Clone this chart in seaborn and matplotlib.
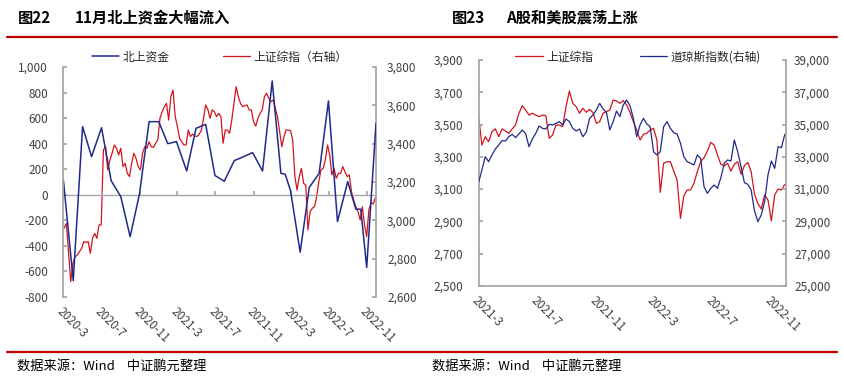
import pandas as pd
import numpy as np
import matplotlib.pyplot as plt
import matplotlib.dates as mdates
from matplotlib.lines import Line2D
from matplotlib.ticker import FuncFormatter, MultipleLocator
import seaborn as sns

# Left chart: northbound flows (monthly, 亿元) and SSE composite (weekly)

north_dates = [
    "2020-02-28", "2020-03-31", "2020-04-30", "2020-05-29", "2020-06-30", "2020-07-31",
    "2020-08-31", "2020-09-30", "2020-10-30", "2020-11-30", "2020-12-31", "2021-01-29",
    "2021-02-26", "2021-03-31", "2021-04-30", "2021-05-31", "2021-06-30", "2021-07-30",
    "2021-08-31", "2021-09-30", "2021-10-29", "2021-11-30", "2021-12-31", "2022-01-28",
    "2022-02-11", "2022-02-28", "2022-03-31", "2022-04-29", "2022-05-31", "2022-06-30",
    "2022-07-29", "2022-08-31", "2022-09-26", "2022-10-12", "2022-10-31", "2022-11-30",
]
north_flow = [
    121, -672, 533, 298, 525, 110, -15, -328, 5, 572, 572, 400,
    416, 186, 520, 551, 150, 106, 267, 298, 330, 186, 890, 168,
    160, 32, -450, 56, 168, 734, -210, 103, -113, -113, -570, 560,
]

sse_weeks_start = "2020-03-02"
sse_2020_2022 = [
    2960, 2984, 2828, 2680, 2776, 2810, 2819, 2836, 2854, 2889, 2884, 2889,
    2828, 2906, 2932, 2906, 2976, 2976, 3367, 3384, 3263, 3315, 3350, 3393,
    3376, 3341, 3376, 3280, 3298, 3245, 3228, 3298, 3350, 3323, 3280, 3263,
    3350, 3384, 3376, 3410, 3384, 3381, 3402, 3419, 3532, 3567, 3593, 3610,
    3523, 3645, 3680, 3541, 3489, 3428, 3410, 3393, 3393, 3471, 3437, 3450,
    3440, 3437, 3450, 3468, 3532, 3602, 3579, 3532, 3576, 3567, 3541, 3558,
    3541, 3402, 3471, 3471, 3454, 3523, 3610, 3697, 3645, 3610, 3593, 3597,
    3602, 3576, 3576, 3515, 3492, 3532, 3558, 3576, 3645, 3663, 3636, 3619,
    3628, 3584, 3541, 3463, 3384, 3437, 3471, 3471, 3468, 3419, 3228, 3158,
    3228, 3271, 3193, 3184, 2950, 3045, 3063, 3071, 3123, 3202, 3263, 3271,
    3315, 3393, 3341, 3237, 3271, 3219, 3245, 3245, 3280, 3254, 3228, 3237,
    3150, 3106, 3071, 3045, 3002, 3071, 2976, 2915, 3054, 3092, 3085, 3120,
]

# Right chart: SSE composite vs Dow Jones (weekly)

weeks_start = "2021-03-01"
sse_2021_2022 = [
    3559, 3373, 3425, 3394, 3456, 3473, 3425, 3473, 3460, 3446, 3473, 3497,
    3570, 3617, 3590, 3559, 3570, 3559, 3549, 3559, 3555, 3415, 3435, 3497,
    3497, 3487, 3611, 3708, 3632, 3611, 3570, 3601, 3576, 3594, 3574, 3508,
    3518, 3570, 3580, 3590, 3652, 3646, 3632, 3648, 3621, 3576, 3518, 3466,
    3404, 3440, 3446, 3466, 3477, 3404, 3080, 3260, 3270, 3270, 3212, 3157,
    2919, 3058, 3095, 3095, 3136, 3208, 3270, 3295, 3336, 3390, 3373, 3311,
    3254, 3245, 3260, 3212, 3254, 3270, 3192, 3245, 3266, 3208, 3068, 3012,
    2977, 3064, 3033, 2903, 3064, 3101, 3095, 3130,
]
dow_jones = [
    31400, 32186, 33012, 32702, 33115, 33487, 33735, 34003, 33983, 34250, 34395, 34189,
    34416, 34664, 34437, 33631, 34106, 34457, 34912, 34767, 34726, 35015, 34974, 35077,
    35180, 34974, 35345, 35180, 34767, 34602, 34726, 34251, 34519, 35387, 35593, 35903,
    36316, 35965, 35758, 34664, 35180, 35841, 35490, 36213, 36522, 36171, 35387, 34251,
    34974, 35387, 35036, 34870, 33321, 33115, 33321, 34870, 35180, 34767, 34499, 34416,
    33838, 33012, 32702, 32599, 32496, 33115, 32909, 31153, 30740, 31050, 31257, 31050,
    31711, 32599, 32806, 32743, 34044, 33321, 32392, 31401, 31298, 30947, 29646, 28985,
    29398, 30224, 31876, 32743, 32289, 33631, 33569, 34400,
]

sse_ticks_right_chart = [2500, 2700, 2900, 3100, 3300, 3500, 3700, 3900]
dj_ticks = [25000, 27000, 29000, 31000, 33000, 35000, 37000, 39000]

df_north = pd.DataFrame({"date": pd.to_datetime(north_dates), "value": north_flow})
df_sse1 = pd.DataFrame({
    "date": pd.date_range(sse_weeks_start, periods=len(sse_2020_2022), freq="7D"),
    "value": sse_2020_2022,
})
df_sse2 = pd.DataFrame({
    "date": pd.date_range(weeks_start, periods=len(sse_2021_2022), freq="7D"),
    "value": sse_2021_2022,
})
df_dj = pd.DataFrame({
    "date": pd.date_range(weeks_start, periods=len(dow_jones), freq="7D"),
    "value": dow_jones,
})

sns.set_theme(style="white")
plt.rcParams["font.family"] = ["Noto Sans CJK SC", "DejaVu Sans"]
plt.rcParams["axes.unicode_minus"] = False

BLUE = "#1f2a8a"
RED = "#d2141e"
GRAY = "#a6a6a6"
TXT = "#404040"
DARKRED = "#c00000"

fig = plt.figure(figsize=(8.45, 3.79), dpi=100)

ax1 = fig.add_axes([0.0749, 0.2164, 0.3701, 0.6069])
ax1r = ax1.twinx()
ax2 = fig.add_axes([0.5663, 0.2454, 0.3636, 0.5963])
ax2r = ax2.twinx()

# Left chart

sns.lineplot(data=df_sse1, x="date", y="value", ax=ax1r, color=RED,
             linewidth=0.9, label="上证综指（右轴）", legend=False)
sns.lineplot(data=df_north, x="date", y="value", ax=ax1, color=BLUE,
             linewidth=1.1, label="北上资金", legend=False)
ax1.set_zorder(ax1r.get_zorder() + 1)
ax1.patch.set_visible(False)

ax1.set_ylim(-800, 1000)
ax1.yaxis.set_major_locator(MultipleLocator(200))
ax1r.set_ylim(2600, 3800)
ax1r.yaxis.set_major_locator(MultipleLocator(200))
ax1.set_xlim(pd.Timestamp("2020-02-28"), pd.Timestamp("2022-11-30"))
ax1.axhline(0, color=GRAY, linewidth=1.0, zorder=0)

# Right chart

sns.lineplot(data=df_sse2, x="date", y="value", ax=ax2, color=RED,
             linewidth=0.9, label="上证综指", legend=False)
sns.lineplot(data=df_dj, x="date", y="value", ax=ax2r, color=BLUE,
             linewidth=0.9, label="道琼斯指数(右轴)", legend=False)
ax2.set_ylim(2500, 3900)
ax2.set_yticks(sse_ticks_right_chart)
ax2r.set_ylim(25000, 39000)
ax2r.set_yticks(dj_ticks)
ax2.set_xlim(pd.Timestamp("2021-03-01"), pd.Timestamp("2022-11-30"))

# Axis styling

fmt_num = FuncFormatter(lambda v, p: f"{v:,.0f}")
fmt_date = FuncFormatter(lambda v, p: f"{mdates.num2date(v).year}-{mdates.num2date(v).month}")

for ax in [ax1, ax1r, ax2, ax2r]:
    ax.set_xlabel("")
    ax.set_ylabel("")
    for s in ax.spines.values():
        s.set_visible(False)
        s.set_color(GRAY)
    ax.yaxis.set_major_formatter(fmt_num)
    ax.tick_params(axis="y", direction="in", length=3, color=GRAY,
                   labelsize=8.5, labelcolor=TXT)

ax1.spines["left"].set_visible(True)
ax1r.spines["right"].set_visible(True)
ax2.spines["left"].set_visible(True)
ax2.spines["bottom"].set_visible(True)
ax2r.spines["right"].set_visible(True)

ax1.tick_params(axis="y", pad=11)
ax1r.tick_params(axis="y", pad=8)
ax2.tick_params(axis="y", pad=11)
ax2r.tick_params(axis="y", pad=6)

for ax in [ax1, ax2]:
    ax.xaxis.set_major_locator(mdates.MonthLocator(bymonth=[3, 7, 11]))
    ax.xaxis.set_major_formatter(fmt_date)
    for lbl in ax.get_xticklabels():
        lbl.set_rotation(-45)
        lbl.set_ha("left")
        lbl.set_va("top")
        lbl.set_rotation_mode("anchor")

ax1.tick_params(axis="x", length=0, pad=6, labelsize=8.5, labelcolor=TXT)
ax2.tick_params(axis="x", direction="in", length=3, color=GRAY, pad=6,
                labelsize=8.5, labelcolor=TXT)

# tick marks on the zero line of the left chart
zero_axis = ax1.secondary_xaxis(800 / 1800)
zero_axis.set_xticks(ax1.get_xticks())
zero_axis.set_xticklabels([])
zero_axis.tick_params(axis="x", direction="in", length=3, color=GRAY)
for s in zero_axis.spines.values():
    s.set_visible(False)

# Legends

h1, l1 = ax1.get_legend_handles_labels()
h2, l2 = ax1r.get_legend_handles_labels()
ax1.legend(h1 + h2, l1 + l2, loc="center", bbox_to_anchor=(0.5, 1.043),
           ncol=2, frameon=False, fontsize=8.5, handlelength=2.3,
           handletextpad=0.3, columnspacing=4.5, borderaxespad=0)

h1, l1 = ax2.get_legend_handles_labels()
h2, l2 = ax2r.get_legend_handles_labels()
ax2r.legend(h1 + h2, l1 + l2, loc="center", bbox_to_anchor=(0.52, 1.013),
            ncol=2, frameon=False, fontsize=8.5, handlelength=2.3,
            handletextpad=0.3, columnspacing=4.0, borderaxespad=0)

# Titles, rules and sources

W, H = 845, 379
fig.text(18 / W, 1 - 18 / H, "图22", fontsize=11, fontweight="bold", va="center", color="black")
fig.text(75 / W, 1 - 18 / H, "11月北上资金大幅流入", fontsize=11, fontweight="bold", va="center", color="black")
fig.text(452 / W, 1 - 18 / H, "图23", fontsize=11, fontweight="bold", va="center", color="black")
fig.text(506 / W, 1 - 18 / H, "A股和美股震荡上涨", fontsize=11, fontweight="bold", va="center", color="black")

fig.add_artist(Line2D([7 / W, 837 / W], [1 - 37.3 / H] * 2, color=DARKRED, linewidth=1.6))
fig.add_artist(Line2D([7 / W, 837 / W], [1 - 352 / H] * 2, color=DARKRED, linewidth=1.6))

fig.text(17 / W, 1 - 366 / H, "数据来源：Wind    中证鹏元整理", fontsize=9.5, va="center", color="black")
fig.text(432 / W, 1 - 366 / H, "数据来源：Wind    中证鹏元整理", fontsize=9.5, va="center", color="black")

fig.savefig("out.png", dpi=100)
